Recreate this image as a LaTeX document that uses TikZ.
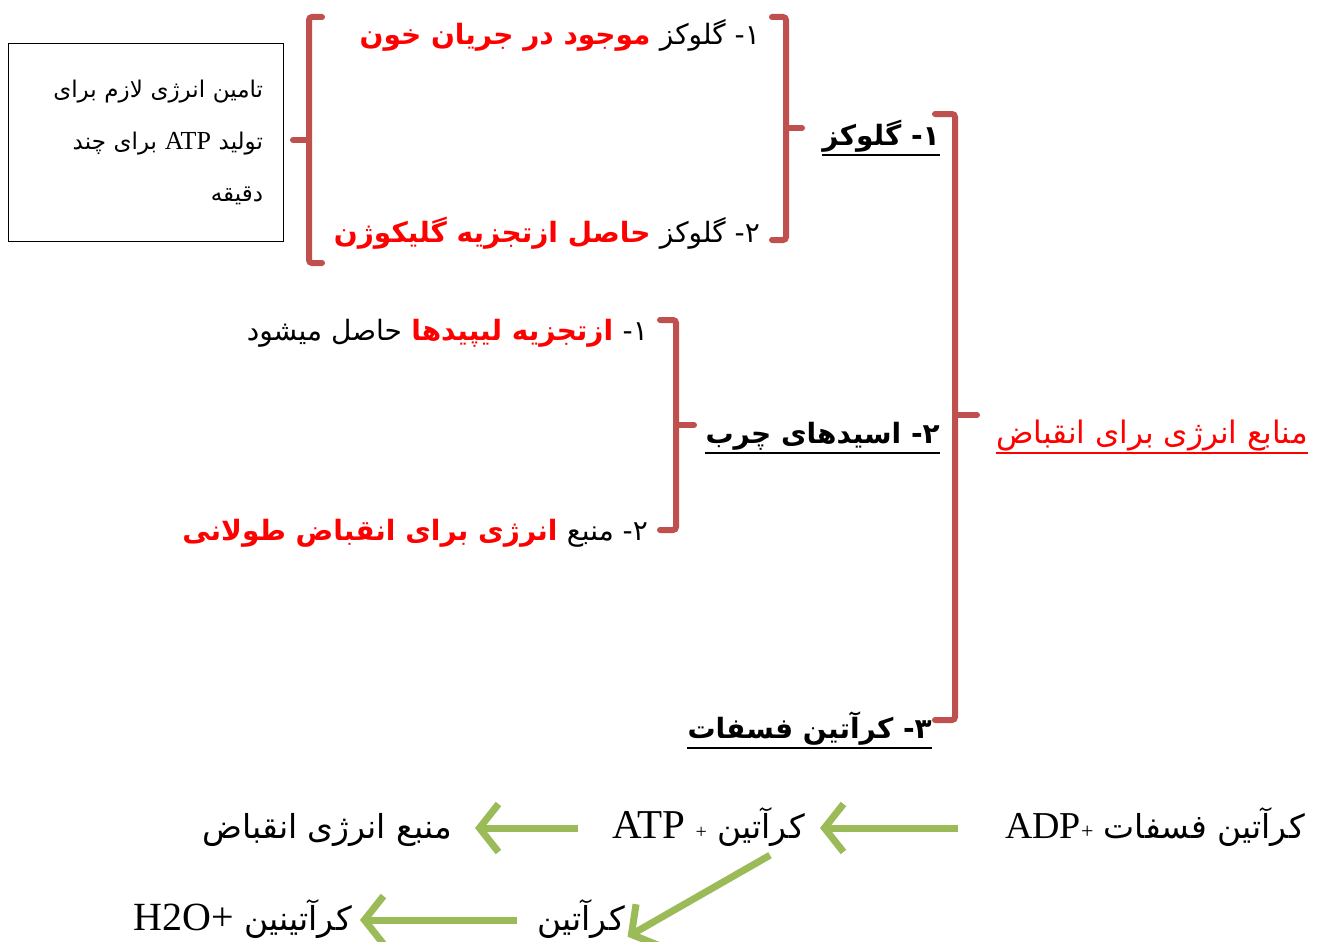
\documentclass[tikz,border=0pt]{standalone}
\usepackage{fontspec}
\setmainfont{Liberation Serif}
\newfontfamily\fa[Script=Arabic]{DejaVu Sans}
\TeXXeTstate=1
\usetikzlibrary{positioning,arrows.meta}
\definecolor{bracered}{HTML}{C0504D}
\definecolor{leafgreen}{HTML}{9BBB59}
\newcommand{\rtl}[1]{\beginR #1\endR}
\newcommand{\ltr}[1]{\beginL #1\endL}
\newcommand{\lat}[2]{{\fontsize{#1}{#1}\rmfamily #2}}

\begin{document}
\begin{tikzpicture}
  [x=1pt,y=-1pt,
   every node/.style={inner sep=0pt},
   brace/.style={draw=bracered,line width=6pt,rounded corners=3pt,line cap=round},
   item/.style={font=\fa\fontsize{28}{32}\selectfont},
   hot/.style={font=\fa\bfseries\fontsize{28}{32}\selectfont,text=red},
   headtext/.style={font=\fa\bfseries\fontsize{28}{32}\selectfont},
   uline/.style={line width=1.6pt},
   big/.style={font=\fa\fontsize{33}{36}\selectfont,text height=28pt,text depth=8pt},
   flow/.style={draw=leafgreen,line width=7pt,-{Straight Barb[length=19pt,width=48pt]}}]
  \useasboundingbox (0,0) rectangle (1318,942);

  % note box
  \node[draw,line width=0.8pt,text width=235pt,inner xsep=20pt,minimum height=198pt,
        align=right,font=\fa\fontsize{23}{52}\selectfont] (note) at (145.5,142)
    {\rtl{تامین انرژی لازم برای}\\\rtl{تولید \ltr{\lat{26}{ATP}} برای چند}\\\rtl{دقیقه}};

  % glucose items
  \node[item,anchor=base east] (g1a) at (760,45) {\rtl{۱- گلوکز}};
  \node[hot,base left=9pt of g1a] (g1b) {\rtl{موجود در جریان خون}};
  \node[item,anchor=base east] (g2a) at (760,242) {\rtl{۲- گلوکز}};
  \node[hot,base left=9pt of g2a] (g2b) {\rtl{حاصل ازتجزیه گلیکوژن}};

  % fatty acid items
  \node[item,anchor=base east] (f1a) at (648,340) {\rtl{۱-}};
  \node[hot,base left=9pt of f1a] (f1b) {\rtl{ازتجزیه لیپیدها}};
  \node[item,base left=9pt of f1b] (f1c) {\rtl{حاصل میشود}};
  \node[item,anchor=base east] (f2a) at (648,540) {\rtl{۲- منبع}};
  \node[hot,base left=9pt of f2a] (f2b) {\rtl{انرژی برای انقباض طولانی}};

  % headings
  \node[headtext,anchor=base east] (h1) at (940,145) {\rtl{۱- گلوکز}};
  \node[headtext,anchor=base east] (h2) at (940,443) {\rtl{۲- اسیدهای چرب}};
  \node[headtext,anchor=base east] (h3) at (932,738) {\rtl{۳- کرآتین فسفات}};
  \node[font=\fa\fontsize{31}{34}\selectfont,text=red,anchor=base east] (src) at (1308,443)
    {\rtl{منابع انرژی برای انقباض}};
  \foreach \n in {h1,h2,h3}
    \draw[uline] ([yshift=-10pt]\n.base west) -- ([yshift=-10pt]\n.base east);
  \draw[uline,red] ([yshift=-10pt]src.base west) -- ([yshift=-10pt]src.base east);

  % braces
  \draw[brace] (322,17) -- (309,17) -- (309,263) -- (322,263);
  \draw[brace] (309,140) -- (293,140);
  \draw[brace] (772,17) -- (786,17) -- (786,240) -- (772,240);
  \draw[brace] (786,128) -- (802,128);
  \draw[brace] (660,320) -- (676,320) -- (676,530) -- (660,530);
  \draw[brace] (676,425) -- (694,425);
  \draw[brace] (935,114) -- (955,114) -- (955,720) -- (935,720);
  \draw[brace] (955,415) -- (977,415);

  % creatine phosphate reactions
  \node[big,anchor=base east] (adp) at (1305,838)
    {\rtl{کرآتین فسفات \ltr{\lat{38}{ADP}\lat{22}{+}}}};
  \node[big,anchor=base east] (ca) at (805,838)
    {\rtl{کرآتین \lat{20}{+} \ltr{\lat{41}{ATP}}}};
  \node[big,anchor=base east] (use) at (452,838) {\rtl{منبع انرژی انقباض}};
  \node[big,anchor=base east] (cr) at (625,930) {\rtl{کرآتین}};
  \node[big,anchor=base east] (crn) at (352,930)
    {\rtl{کرآتینین \ltr{\lat{40}{H2O+}}}};

  \draw[flow,shorten <=47pt,shorten >=15pt] (adp.west) -- (ca.east);
  \draw[flow,shorten <=34pt,shorten >=23pt] (ca.west) -- (use.east);
  \draw[flow,shorten >=3pt] ([shift={(-35,9)}]ca.south east) -- (cr.south east);
  \draw[flow,shorten <=20pt,shorten >=8pt] (cr.west) -- (crn.east);
\end{tikzpicture}
\end{document}
